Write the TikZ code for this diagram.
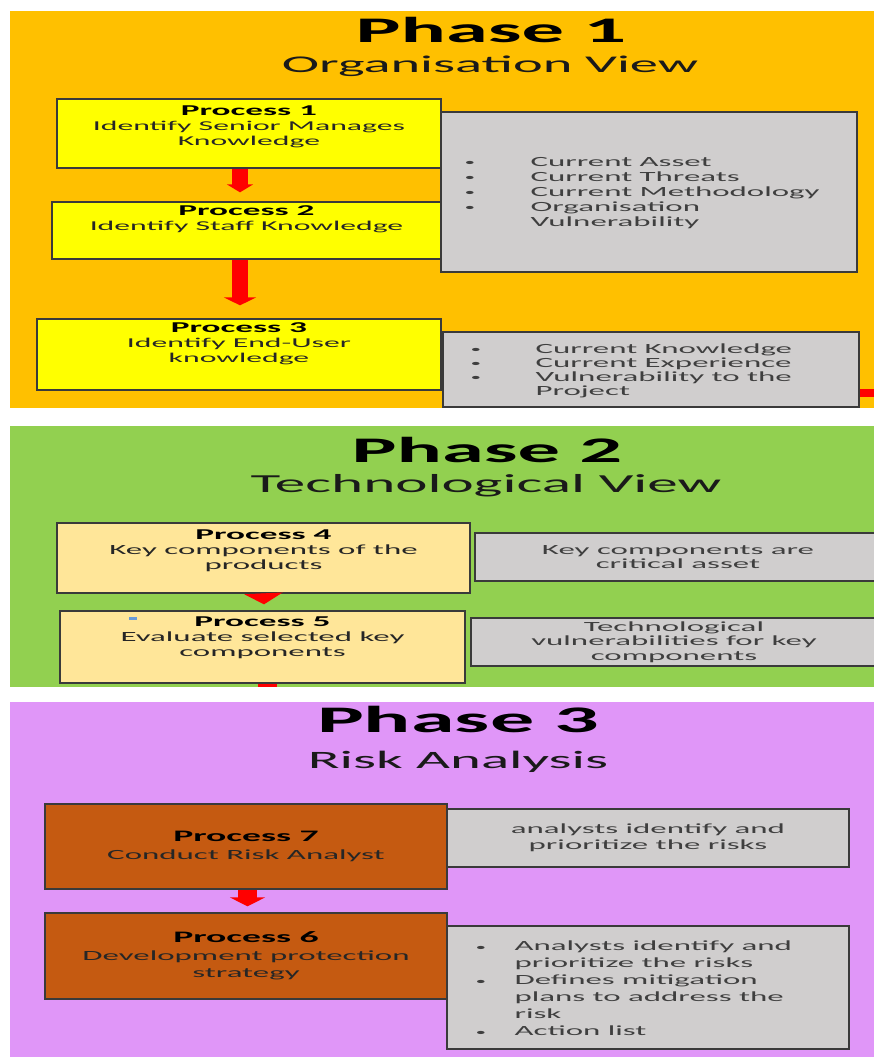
\documentclass[tikz,border=0pt]{standalone}
\usepackage{fontspec}
\setmainfont[FakeStretch=2.35]{Carlito}
\usetikzlibrary{arrows.meta,calc}

\definecolor{orangepanel}{HTML}{FFC000}
\definecolor{greenpanel}{HTML}{92D050}
\definecolor{pinkpanel}{HTML}{E096F8}
\definecolor{procyellow}{HTML}{FFFF00}
\definecolor{procpeach}{HTML}{FFE699}
\definecolor{procrust}{HTML}{C55A11}
\definecolor{greyfill}{HTML}{D0CECE}
\definecolor{edge}{HTML}{3A3A3A}
\definecolor{arrowred}{HTML}{FF0000}
\definecolor{txt}{HTML}{262626}
\definecolor{gtxt}{HTML}{3F3F3F}
\definecolor{subtxt}{HTML}{1A1A1A}
\definecolor{bluemark}{HTML}{6A9BD8}

% bold first line of a process box
\newcommand\procttl[1]{{\fontsize{15}{15}\selectfont\bfseries\color{black}#1}}
\newcommand\procttlb[1]{{\fontsize{16}{16}\selectfont\bfseries\color{black}#1}}
% small bullet followed by a fixed indent
\newcommand\lstbullet[1]{\makebox[#1][l]{\raisebox{0.8pt}{\fontsize{9}{9}\selectfont\textbullet}}}

\begin{document}
\begin{tikzpicture}[x=1pt, y=-1pt,
  pbox/.style={draw=edge, line width=1.3pt, inner sep=0pt},
  ptext/.style={anchor=north, align=center, inner sep=0pt, text=txt,
                font=\fontsize{13.5}{15}\selectfont},
  gbox/.style={pbox, fill=greyfill, align=center, text=gtxt,
               font=\fontsize{14}{14.5}\selectfont},
  glist/.style={anchor=west, align=left, inner sep=0pt, text=gtxt,
                font=\fontsize{14}{15}\selectfont},
  ttl/.style={anchor=base, inner sep=0pt, font=\fontsize{36}{40}\selectfont\bfseries},
  subttl/.style={anchor=base, inner sep=0pt, text=subtxt, font=\fontsize{24}{28}\selectfont},
  flow/.style={draw=arrowred, line width=16pt, -{Triangle[width=26pt,length=8pt]}},
]
\useasboundingbox (0,0) rectangle (874,1057);
\begin{scope}
\clip (0,0) rectangle (874,1057);

% ---------- background panels ----------
\fill[orangepanel] (10,11) rectangle (874,408);
\fill[greenpanel]  (10,426) rectangle (874,687);
\fill[pinkpanel]   (10,702) rectangle (874,1057);

% ---------- Phase 1 ----------
\node[ttl] (t1) at (491,43) {Phase 1};
\node[subttl] (s1) at (490,72) {Organisation View};

\node[pbox, fill=procyellow, minimum width=384pt, minimum height=69pt] (P1) at (249,133.5) {};
\node[pbox, fill=procyellow, minimum width=389pt, minimum height=57pt] (P2) at (246.5,230.5) {};
\node[pbox, fill=procyellow, minimum width=404pt, minimum height=71pt] (P3) at (239,354.5) {};
\node[ptext] (P1t) at ([yshift=-7pt]P1.north) {\procttl{Process 1}\\Identify Senior Manages\\Knowledge};
\node[ptext] (P2t) at ([yshift=-4pt]P2.north) {\procttl{Process 2}\\Identify Staff Knowledge};
\node[ptext] (P3t) at ([yshift=-4pt]P3.north) {\procttl{Process 3}\\Identify End-User\\knowledge};

\node[gbox, minimum width=416pt, minimum height=160pt] (G1) at (649,192) {};
\node[glist] (G1t) at ([xshift=24pt, yshift=-1pt]G1.west) {%
  \lstbullet{66pt}Current Asset\\
  \lstbullet{66pt}Current Threats\\
  \lstbullet{66pt}Current Methodology\\
  \lstbullet{66pt}Organisation\\
  \hspace*{66pt}Vulnerability};

\node[gbox, minimum width=416pt, minimum height=75pt] (G2) at (651,369.5) {};
\node[glist, font=\fontsize{14}{14}\selectfont] (G2t) at ([xshift=28pt, yshift=-1pt]G2.west) {%
  \lstbullet{65pt}Current Knowledge\\
  \lstbullet{65pt}Current Experience\\
  \lstbullet{65pt}Vulnerability to the\\
  \hspace*{65pt}Project};

\draw[flow] ([xshift=-9pt]P1.south) -- ([xshift=-6.5pt, yshift=9pt]P2.north);
\draw[flow, -{Triangle[width=32pt,length=8pt]}] ([xshift=-6.5pt]P2.south) -- ([xshift=1pt, yshift=13pt]P3.north);
\coordinate (out1) at (874,393);
\draw[draw=arrowred, line width=8pt] ([yshift=-23.5pt]G2.east) -- (out1);

% ---------- Phase 2 ----------
\node[ttl] (t2) at (487,462) {Phase 2};
\node[subttl, font=\fontsize{26}{28}\selectfont] (s2) at (486,492) {Technological View};

\node[pbox, fill=procpeach, minimum width=413pt, minimum height=70pt] (P4) at (263.5,558) {};
\node[pbox, fill=procpeach, minimum width=405pt, minimum height=72pt] (P5) at (262.5,647) {};
\node[ptext, font=\fontsize{14}{15}\selectfont] (P4t) at ([yshift=-7pt]P4.north) {\procttl{Process 4}\\Key components of the\\products};
\node[ptext, font=\fontsize{14}{15}\selectfont] (P5t) at ([yshift=-6pt]P5.north) {\procttl{Process 5}\\Evaluate selected key\\components};
\fill[bluemark] (129,617) rectangle (137,620);

\node[gbox, minimum width=406pt, minimum height=48pt] (G4) at (678,557) {Key components are\\critical asset};
\node[gbox, minimum width=406pt, minimum height=48pt] (G5) at (674,642) {Technological\\vulnerabilities for key\\components};

\draw[flow, line width=14pt, -{Triangle[width=38pt,length=11pt]}] (P4.south) -- ([xshift=1.5pt, yshift=6pt]P5.north);
\coordinate (out2) at (267.5,687);
\draw[draw=arrowred, line width=19pt] ([xshift=5pt]P5.south) -- (out2);

% ---------- Phase 3 ----------
\node[ttl, font=\fontsize{37.5}{40}\selectfont\bfseries] (t3) at (458,732) {Phase 3};
\node[subttl, font=\fontsize{25}{28}\selectfont] (s3) at (458,768) {Risk Analysis};

\node[pbox, fill=procrust, align=center, text=txt, font=\fontsize{14}{17.5}\selectfont,
      minimum width=402pt, minimum height=85pt] (P7) at (246,846.5) {\procttlb{Process 7}\\Conduct Risk Analyst};
\node[pbox, fill=procrust, align=center, text=txt, font=\fontsize{14}{17.5}\selectfont,
      minimum width=402pt, minimum height=86pt] (P6) at (246,956) {\procttlb{Process 6}\\Development protection\\strategy};

\node[gbox, font=\fontsize{14}{16}\selectfont, minimum width=402pt, minimum height=58pt] (G7) at (648,838) {analysts identify and\\prioritize the risks};
\node[gbox, minimum width=402pt, minimum height=123pt] (G6) at (648,987.5) {};
\node[glist, font=\fontsize{14}{17}\selectfont] (G6t) at ([xshift=29pt, yshift=-1pt]G6.west) {%
  \lstbullet{39pt}Analysts identify and\\
  \hspace*{39pt}prioritize the risks\\
  \lstbullet{39pt}Defines mitigation\\
  \hspace*{39pt}plans to address the\\
  \hspace*{39pt}risk\\
  \lstbullet{39pt}Action list};

\draw[flow, line width=19pt, -{Triangle[width=35pt,length=9pt]}] ([xshift=1.5pt]P7.south) -- ([xshift=1.5pt, yshift=6pt]P6.north);
\end{scope}
\end{tikzpicture}
\end{document}
